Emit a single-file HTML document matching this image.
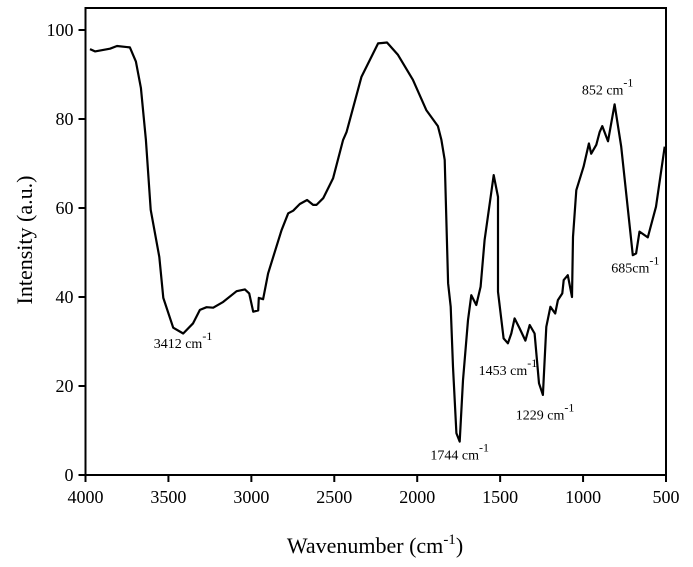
<!DOCTYPE html>
<html><head><meta charset="utf-8"><style>
html,body{margin:0;padding:0;background:#fff;}
svg{display:block;font-family:"Liberation Serif",serif;}
</style></head><body>
<svg id="chart" width="693" height="567" viewBox="0 0 693 567"></svg>
<script>
const wavenumbers=[3973,3943,3852,3810,3732,3696,3666,3636,3607,3555,3531,3471,3411,3351,3310,3270,3230,3170,3089,3039,3013,2989,2959,2955,2929,2899,2818,2778,2748,2708,2664,2628,2607,2567,2507,2447,2426,2336,2236,2182,2116,2026,1945,1875,1854,1834,1814,1798,1784,1764,1744,1724,1694,1674,1644,1618,1594,1539,1513,1513,1479,1453,1433,1413,1383,1348,1322,1292,1266,1242,1222,1197,1168,1152,1125,1117,1092,1067,1061,1041,997,965,951,920,900,884,850,810,770,700,680,660,610,560,508];
const intensity=[95.7,95.2,95.8,96.4,96.1,92.9,87,75.3,59.6,49,39.8,33.1,31.8,34.1,37.1,37.7,37.6,38.9,41.3,41.7,40.8,36.7,37,39.8,39.5,45.3,55,58.8,59.4,60.9,61.8,60.7,60.7,62.2,66.7,75.3,77.1,89.5,97,97.2,94.4,88.8,82,78.4,75.3,70.8,43.1,37.8,24.3,9.4,7.5,21.3,34.8,40.4,38.2,42.3,52.8,67.4,62.5,41.2,30.7,29.6,31.8,35.2,33,30.2,33.7,31.8,20.6,18,33.3,37.8,36.3,39.3,40.8,43.8,44.9,40,53.5,64,69.3,74.5,72.2,74.2,77.1,78.4,75,83.3,73.8,49.4,49.8,54.7,53.4,60.3,73.8];
const xTicks=[4000,3500,3000,2500,2000,1500,1000,500];
const yTicks=[0,20,40,60,80,100];
const annoText=["3412 cm","1744 cm","1453 cm","1229 cm","852 cm","685cm"];
const annoX=[3412,1744,1453,1229,852,685];
const annoY=[28.5,3.5,22.5,12.5,85.5,45.5];

const L=85.5,R=666,T=8,B=475;
const xs=w=>L+(4000-w)*(R-L)/3500;
const ys=v=>B-v*(B-30)/100;
const svg=document.getElementById('chart');
const NS='http://www.w3.org/2000/svg';
function mk(tag,attrs,parent){const e=document.createElementNS(NS,tag);for(const k in attrs)e.setAttribute(k,attrs[k]);(parent||svg).appendChild(e);return e;}

const frame=mk('rect',{x:L,y:T,width:R-L,height:B-T,fill:'none',stroke:'#000','stroke-width':2});



xTicks.forEach(t=>{
  const x=xs(t);
  const tk=mk('line',{x1:x,y1:B,x2:x,y2:B+7,stroke:'#000','stroke-width':2});
  
  
  const tx=mk('text',{x:x,y:B+28,'text-anchor':'middle','font-size':18});
  tx.textContent=t;
  
  
});
yTicks.forEach(t=>{
  const y=ys(t);
  const tk=mk('line',{x1:L-7,y1:y,x2:L,y2:y,stroke:'#000','stroke-width':2});
  
  
  const tx=mk('text',{x:L-12,y:y+6,'text-anchor':'end','font-size':18});
  tx.textContent=t;
  
  
});

const d=wavenumbers.map((w,i)=>(i?'L':'M')+xs(w).toFixed(1)+','+ys(intensity[i]).toFixed(1)).join(' ');
const path=mk('path',{d:d,fill:'none',stroke:'#000','stroke-width':2.2,'stroke-linejoin':'round'});



annoText.forEach((s,i)=>{
  const g=mk('text',{x:xs(annoX[i]),y:ys(annoY[i]),'text-anchor':'middle','font-size':14});
  
  
  g.appendChild(document.createTextNode(s));
  const sup=mk('tspan',{dy:-8,'font-size':12},g);
  sup.textContent='-1';
});

const xt=mk('text',{x:375,y:553,'text-anchor':'middle','font-size':22});


xt.appendChild(document.createTextNode('Wavenumber (cm'));
const s1=mk('tspan',{dy:-9,'font-size':15},xt);s1.textContent='-1';
const s2=mk('tspan',{dy:9},xt);s2.textContent=')';

const yt=mk('text',{x:0,y:0,'text-anchor':'middle','font-size':22,transform:'translate(32,240) rotate(-90)'});
yt.textContent='Intensity (a.u.)';


</script>
</body></html>
